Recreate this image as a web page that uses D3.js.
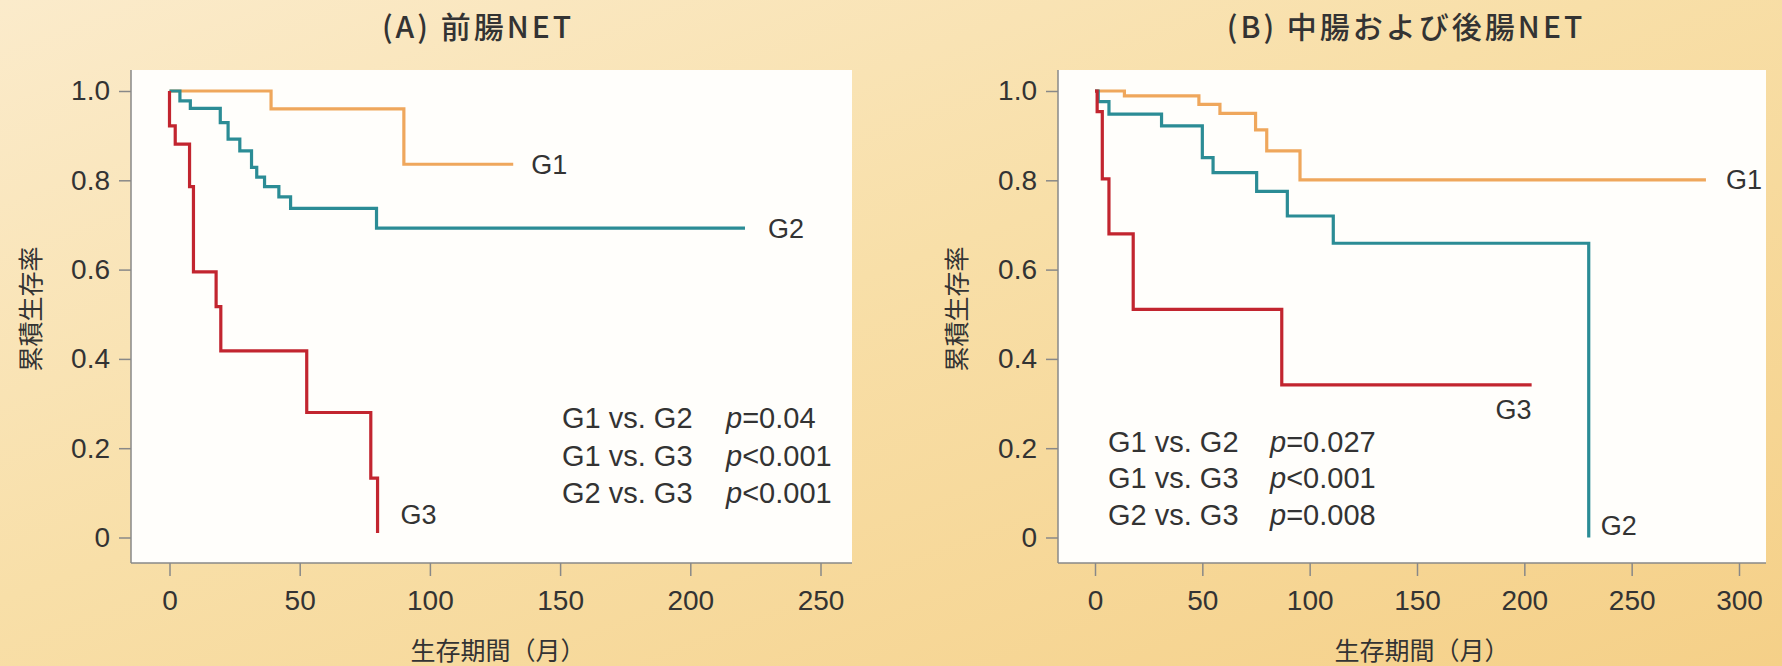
<!DOCTYPE html>
<html><head><meta charset="utf-8">
<script src="https://cdn.jsdelivr.net/npm/d3@7"></script>
<style>
html,body{margin:0;padding:0;background:#f7dca0;}
svg{display:block;}
text{fill:#333;}
</style></head>
<body>
<script>
// ---------------- DATA ----------------
const panelTitles = ["(A) 前腸NET", "(B) 中腸および後腸NET"];
const yTickValues = [0, 0.2, 0.4, 0.6, 0.8, 1.0];
const yTickLabels = ["0", "0.2", "0.4", "0.6", "0.8", "1.0"];
const xTicksA = [0, 50, 100, 150, 200, 250];
const xTicksB = [0, 50, 100, 150, 200, 250, 300];
const yTitle = "累積生存率";
const xTitle = "生存期間（月）";
const groupNames = ["G1", "G2", "G3"];

// Panel A (foregut NET): step times (months) and survival after each step
const g1A_time = [0, 39, 90, 132];
const g1A_surv = [1.0, 0.96, 0.836, 0.836];
const g2A_time = [0, 4, 8, 19.5, 22.5, 27, 31.5, 33.5, 36.5, 42, 46.5, 79.5, 221];
const g2A_surv = [1.0, 0.978, 0.961, 0.929, 0.892, 0.866, 0.829, 0.807, 0.786, 0.763, 0.737, 0.693, 0.693];
const g3A_time = [0, 0, 2.2, 7.7, 9.2, 17.9, 19.7, 52.7, 77.3, 79.9];
const g3A_surv = [1.0, 0.922, 0.881, 0.786, 0.595, 0.517, 0.418, 0.280, 0.133, 0.01];

// Panel B (midgut & hindgut NET)
const g1B_time = [0, 13.7, 48.4, 58.2, 74.8, 80, 95.5, 284.6];
const g1B_surv = [1.0, 0.989, 0.970, 0.950, 0.913, 0.866, 0.801, 0.801];
const g2B_time = [0, 1.5, 6.5, 31, 50, 55, 75.3, 89.6, 111, 230];
const g2B_surv = [1.0, 0.976, 0.948, 0.922, 0.851, 0.817, 0.775, 0.720, 0.659, 0.0];
const g3B_time = [0, 1, 3.4, 6.5, 17.8, 87, 203.4];
const g3B_surv = [1.0, 0.954, 0.803, 0.680, 0.511, 0.342, 0.342];

const pCompA = ["G1 vs. G2", "G1 vs. G3", "G2 vs. G3"];
const pValA = ["=0.04", "<0.001", "<0.001"];
const pCompB = ["G1 vs. G2", "G1 vs. G3", "G2 vs. G3"];
const pValB = ["=0.027", "<0.001", "=0.008"];

const colors = {G1: "#efa75c", G2: "#2b8c95", G3: "#c2252f"};

// ---------------- DRAW ----------------
const W = 1782, H = 666;
const svg = d3.select("body").append("svg").attr("width", W).attr("height", H);
const defs = svg.append("defs");
const bg = defs.append("linearGradient").attr("id", "bg")
  .attr("x1", "0%").attr("y1", "0%").attr("x2", "100%").attr("y2", "100%");
bg.append("stop").attr("offset", "0%").attr("stop-color", "#fbebcb");
bg.append("stop").attr("offset", "45%").attr("stop-color", "#f8dfa8");
bg.append("stop").attr("offset", "100%").attr("stop-color", "#f5d088");
svg.append("rect").attr("width", W).attr("height", H).attr("fill", "url(#bg)");

const LATIN = "'Liberation Sans', Arial, 'Noto Sans CJK JP', sans-serif";
const CJK = "'Noto Sans CJK JP', 'Liberation Sans', sans-serif";

function panel(cfg) {
  const g = svg.append("g");
  const x = d3.scaleLinear().domain(cfg.xDomain).range(cfg.xRange);
  const y = d3.scaleLinear().domain([0, 1]).range([537.5, 91]);
  // plot box
  g.append("rect").attr("x", cfg.box[0]).attr("y", 70)
    .attr("width", cfg.box[1] - cfg.box[0]).attr("height", 563 - 70)
    .attr("fill", "#fffefb");
  // axes lines
  g.append("line").attr("x1", cfg.box[0]).attr("x2", cfg.box[1]).attr("y1", 563).attr("y2", 563)
    .attr("stroke", "#888").attr("stroke-width", 1.5);
  g.append("line").attr("x1", cfg.box[0]).attr("x2", cfg.box[0]).attr("y1", 70).attr("y2", 563)
    .attr("stroke", "#888").attr("stroke-width", 1.5);

  const xAxis = d3.axisBottom(x).tickValues(cfg.xTicks).tickSize(13).tickPadding(14).tickFormat(d3.format("d"));
  const xa = g.append("g").attr("transform", `translate(0,563)`).call(xAxis);
  xa.select(".domain").remove();
  xa.selectAll("line").attr("stroke", "#888").attr("stroke-width", 1.5);
  xa.selectAll("text").attr("font-family", LATIN).attr("font-size", 28).attr("fill", "#333");

  const yAxis = d3.axisLeft(y).tickValues(yTickValues).tickSize(12).tickPadding(9)
    .tickFormat((d, i) => yTickLabels[i]);
  const ya = g.append("g").attr("transform", `translate(${cfg.box[0]},0)`).call(yAxis);
  ya.select(".domain").remove();
  ya.selectAll("line").attr("stroke", "#888").attr("stroke-width", 1.5);
  ya.selectAll("text").attr("font-family", LATIN).attr("font-size", 28).attr("fill", "#333");

  // curves
  const line = d3.line().x(d => x(d[0])).y(d => y(d[1])).curve(d3.curveStepAfter);
  cfg.series.forEach(s => {
    const pts = s.t.map((t, i) => [t, s.s[i]]);
    g.append("path").attr("d", line(pts)).attr("fill", "none")
      .attr("stroke", colors[s.name]).attr("stroke-width", 3.2);
  });
  // curve labels
  cfg.labels.forEach(l => {
    g.append("text").attr("x", x(l.t) + l.dx).attr("y", y(l.s))
      .attr("dominant-baseline", "central").attr("text-anchor", l.anchor || "start")
      .attr("font-family", LATIN).attr("font-size", 27).text(l.name);
  });
  // p values
  cfg.pComp.forEach((c, i) => {
    const ty = cfg.pY[i];
    g.append("text").attr("x", cfg.pX[0]).attr("y", ty).attr("dominant-baseline", "central")
      .attr("font-family", LATIN).attr("font-size", 29).text(c);
    const t = g.append("text").attr("x", cfg.pX[1]).attr("y", ty).attr("dominant-baseline", "central")
      .attr("font-family", LATIN).attr("font-size", 29);
    t.append("tspan").attr("font-style", "italic").text("p");
    t.append("tspan").text(cfg.pVal[i]);
  });
  // titles
  g.append("text").attr("x", cfg.titleX).attr("y", 25).attr("text-anchor", "middle")
    .attr("dominant-baseline", "central").attr("font-family", CJK).attr("font-weight", 500)
    .attr("letter-spacing", 3).attr("font-size", 30).text(cfg.title);
  g.append("text").attr("x", cfg.xTitleX).attr("y", 649).attr("text-anchor", "middle")
    .attr("dominant-baseline", "central").attr("font-family", CJK).attr("font-size", 25).text(xTitle);
  g.append("text").attr("transform", `translate(${cfg.yTitleX},309) rotate(-90)`)
    .attr("text-anchor", "middle").attr("dominant-baseline", "central")
    .attr("font-family", CJK).attr("font-size", 25).text(yTitle);
}

panel({
  xDomain: [0, 250], xRange: [169.5, 820.5], box: [131, 852], xTicks: xTicksA,
  series: [
    {name: "G1", t: g1A_time, s: g1A_surv},
    {name: "G2", t: g2A_time, s: g2A_surv},
    {name: "G3", t: g3A_time, s: g3A_surv}],
  labels: [
    {name: groupNames[0], t: 132, s: 0.834, dx: 18},
    {name: groupNames[1], t: 221, s: 0.69, dx: 23},
    {name: groupNames[2], t: 79.9, s: 0.05, dx: 23}],
  pComp: pCompA, pVal: pValA, pX: [562, 726], pY: [418, 456, 493],
  title: panelTitles[0], titleX: 478, xTitleX: 498, yTitleX: 29
});

panel({
  xDomain: [0, 300], xRange: [1095, 1739], box: [1058, 1766], xTicks: xTicksB,
  series: [
    {name: "G1", t: g1B_time, s: g1B_surv},
    {name: "G2", t: g2B_time, s: g2B_surv},
    {name: "G3", t: g3B_time, s: g3B_surv}],
  labels: [
    {name: groupNames[0], t: 284.6, s: 0.80, dx: 20},
    {name: groupNames[1], t: 230, s: 0.025, dx: 12},
    {name: groupNames[2], t: 203.4, s: 0.285, dx: 0, anchor: "end"}],
  pComp: pCompB, pVal: pValB, pX: [1108, 1270], pY: [442, 478, 515],
  title: panelTitles[1], titleX: 1406, xTitleX: 1422, yTitleX: 955
});
</script>
</body></html>
